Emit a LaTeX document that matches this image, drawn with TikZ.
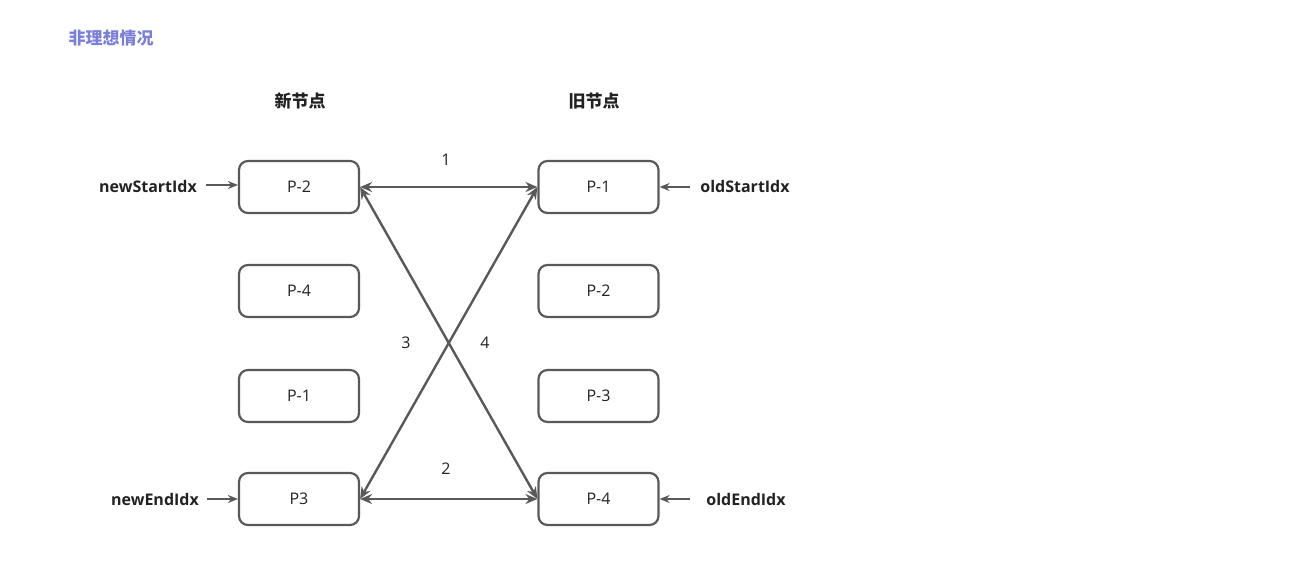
\documentclass[tikz,border=0pt]{standalone}
\usepackage{fontspec}
\setmainfont{Open Sans}
\newfontfamily\cjk{Noto Sans CJK SC}
\usetikzlibrary{arrows.meta}
\definecolor{linegray}{HTML}{595959}
\definecolor{titleblue}{HTML}{7B7FD9}
\definecolor{textdark}{HTML}{222222}
\tikzset{
  pbox/.style={draw=linegray,line width=2.2pt,rounded corners=9pt,minimum width=120pt,minimum height=52pt,
    inner sep=0pt,font=\fontsize{16}{18}\selectfont,text=textdark},
  idx/.style={font=\fontsize{16}{19}\selectfont\bfseries,text=textdark},
  lnk/.style={draw=linegray,line width=2.4pt,{Stealth[length=12pt,width=10pt]}-{Stealth[length=12pt,width=10pt]}},
  ptr/.style={draw=linegray,line width=2.2pt,-{Stealth[length=10pt,width=8pt]}},
  num/.style={font=\fontsize{16}{18}\selectfont,text=textdark}
}
\begin{document}
\begin{tikzpicture}[x=1pt,y=-1pt]
   \useasboundingbox (0,0) rectangle (1289,585);
   \node[font=\cjk\fontsize{17}{20}\selectfont\bfseries,text=titleblue] (title) at (111,38) {非理想情况};
   \node[font=\cjk\fontsize{17}{20}\selectfont\bfseries,text=textdark] (hnew) at (300,101) {新节点};
   \node[font=\cjk\fontsize{17}{20}\selectfont\bfseries,text=textdark] (hold) at (594,101) {旧节点};
   % new nodes
   \node[pbox] (n1) at (299,187) {P-2};
   \node[pbox] (n2) at (299,291) {P-4};
   \node[pbox] (n3) at (299,396) {P-1};
   \node[pbox] (n4) at (299,499) {P3};
   % old nodes
   \node[pbox] (o1) at (598.5,187) {P-1};
   \node[pbox] (o2) at (598.5,291) {P-2};
   \node[pbox] (o3) at (598.5,396) {P-3};
   \node[pbox] (o4) at (598.5,499) {P-4};
   % pointers
   \node[idx] (ns) at (148,187) {newStartIdx};
   \node[idx] (ne) at (155,499) {newEndIdx};
   \node[idx] (os) at (745,187) {oldStartIdx};
   \node[idx] (oe) at (746,499) {oldEndIdx};
   \coordinate (nsa) at (206,185);
   \coordinate (nea) at (207,499);
   \coordinate (osa) at (690,187);
   \coordinate (oea) at (690,499);
   \path[ptr] (nsa) -- (n1.west |- nsa);
   \path[ptr] (nea) -- (n4.west);
   \path[ptr] (osa) -- (o1.east);
   \path[ptr] (oea) -- (o4.east);
   % comparisons
   \path[lnk] (n1.east) -- (o1.west);
   \path[lnk] (n4.east) -- (o4.west);
   \path[lnk] (n1.east) -- (o4.west);
   \path[lnk] (n4.east) -- (o1.west);
   \node[num] (l1) at (446,160) {1};
   \node[num] (l2) at (446,469) {2};
   \node[num] (l3) at (406,343) {3};
   \node[num] (l4) at (485,343) {4};
\end{tikzpicture}
\end{document}
